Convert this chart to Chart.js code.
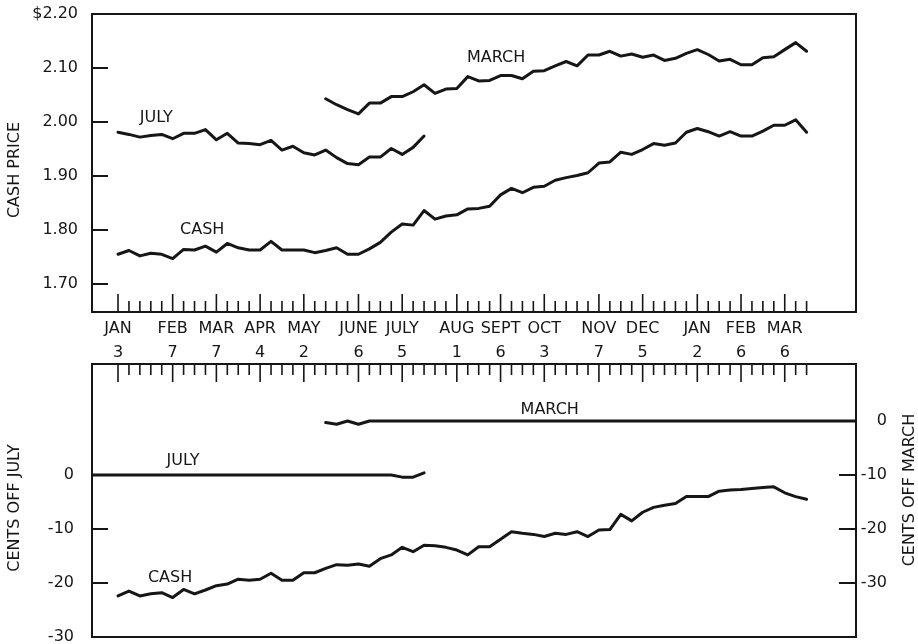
<!DOCTYPE html>
<html>
<head>
<meta charset="utf-8">
<title>Cash price and basis</title>
<script src="https://cdn.jsdelivr.net/npm/chart.js@4.4.1/dist/chart.umd.min.js"></script>
<style>
  html, body { margin: 0; padding: 0; background: #fff; overflow: hidden; }
  #wrap { position: relative; width: 918px; height: 644px; overflow: hidden; }
  #wrap canvas { position: absolute; left: 0; display: block; }
  #priceChart { top: 0; }
  #basisChart { top: 354px; }
</style>
</head>
<body>
<div id="wrap">
  <canvas id="priceChart" width="918" height="364"></canvas>
  <canvas id="basisChart" width="918" height="294"></canvas>
</div>
<script>
// week 0 = Jan 3, one point per week
const monthWeeks = [0, 5, 9, 13, 17, 22, 26, 31, 35, 39, 44, 48, 53, 57, 61];
const monthNames = ['JAN', 'FEB', 'MAR', 'APR', 'MAY', 'JUNE', 'JULY', 'AUG', 'SEPT', 'OCT', 'NOV', 'DEC', 'JAN', 'FEB', 'MAR'];
const monthDays  = ['3', '7', '7', '4', '2', '6', '5', '1', '6', '3', '7', '5', '2', '6', '6'];

const priceTicks = [1.70, 1.80, 1.90, 2.00, 2.10, 2.20];
const julyOffTicks = [-30, -20, -10, 0];
const marchOffTicks = [-30, -20, -10, 0];

// dollars per bushel
const CASH_START = 0;
const cashPrice = [
  1.755, 1.762, 1.752, 1.757, 1.755, 1.747, 1.764, 1.763, 1.770, 1.759,
  1.775, 1.767, 1.763, 1.763, 1.779, 1.763, 1.763, 1.763, 1.758, 1.762,
  1.767, 1.755, 1.755, 1.765, 1.777, 1.796, 1.811, 1.809, 1.836, 1.820,
  1.826, 1.828, 1.839, 1.840, 1.844, 1.865, 1.877, 1.869, 1.879, 1.881,
  1.892, 1.897, 1.901, 1.906, 1.924, 1.926, 1.944, 1.940, 1.949, 1.960,
  1.957, 1.961, 1.981, 1.988, 1.982, 1.974, 1.982, 1.974, 1.974, 1.983,
  1.994, 1.994, 2.004, 1.981
];
const JULY_START = 0;
const julyPrice = [
  1.981, 1.977, 1.972, 1.975, 1.977, 1.969, 1.979, 1.979, 1.986, 1.967,
  1.979, 1.961, 1.960, 1.958, 1.966, 1.948, 1.955, 1.943, 1.939, 1.948,
  1.934, 1.923, 1.921, 1.935, 1.935, 1.951, 1.940, 1.953, 1.974
];
const MARCH_START = 19;
const marchPrice = [
  2.043, 2.032, 2.023, 2.015, 2.035, 2.035, 2.047, 2.047, 2.056, 2.069,
  2.053, 2.061, 2.062, 2.084, 2.076, 2.077, 2.086, 2.086, 2.080, 2.094,
  2.095, 2.104, 2.112, 2.104, 2.124, 2.124, 2.131, 2.122, 2.126, 2.120,
  2.124, 2.114, 2.118, 2.127, 2.134, 2.125, 2.113, 2.116, 2.106, 2.106,
  2.119, 2.121, 2.134, 2.147, 2.131
];

// cents off the futures
const cashOffJuly = [
  -22.4, -21.5, -22.4, -22.0, -21.8, -22.7, -21.2, -22.0, -21.3, -20.5,
  -20.2, -19.3, -19.5, -19.3, -18.2, -19.5, -19.5, -18.1, -18.1, -17.3,
  -16.6, -16.7, -16.5, -16.9, -15.5, -14.8, -13.4, -14.2, -13.0, -13.1,
  -13.4, -13.9, -14.8, -13.3, -13.3, -11.9, -10.5, -10.8, -11.0, -11.4,
  -10.8, -11.0, -10.5, -11.4, -10.2, -10.1, -7.3, -8.5, -6.9, -6.0,
  -5.6, -5.3, -4.0, -4.0, -4.0, -3.0, -2.8, -2.7, -2.5, -2.3,
  -2.2, -3.3, -4.0, -4.5
];
const julyOffJuly = [
  0, 0, 0, 0, 0, 0, 0, 0, 0, 0,
  0, 0, 0, 0, 0, 0, 0, 0, 0, 0,
  0, 0, 0, 0, 0, 0, -0.4, -0.4, 0.4
];
const marchOffMarch = [
  -0.3, -0.6, 0, -0.6, 0, 0, 0, 0, 0, 0,
  0, 0, 0, 0, 0, 0, 0, 0, 0, 0,
  0, 0, 0, 0, 0, 0, 0, 0, 0, 0,
  0, 0, 0, 0, 0, 0, 0, 0, 0, 0,
  0, 0, 0, 0, 0
];

const INK = '#161616';
const FONT = '"DejaVu Sans", sans-serif';
const X_MIN = -2.38, X_MAX = 67.52;
const PRICE_MIN = 1.6481, PRICE_MAX = 2.20;

Chart.defaults.font.family = FONT;
Chart.defaults.font.size = 16;
Chart.defaults.color = INK;

function line(values, start, axis) {
  return {
    data: values.map((v, i) => ({ x: start + i, y: v })),
    yAxisID: axis,
    borderColor: INK,
    borderWidth: 3,
    pointRadius: 0,
    tension: 0,
    fill: false,
    borderJoinStyle: 'round',
    borderCapStyle: 'round'
  };
}

// fixed axis box size, no extra label padding pushed into the layout
function fixSize(prop, size) {
  return s => {
    s[prop] = size;
    s.paddingTop = 0;
    s.paddingBottom = 0;
    s.paddingLeft = 0;
    s.paddingRight = 0;
  };
}

// frame, inner tick marks, curve names and rotated axis titles
function decor(cfg) {
  return {
    id: 'decor',
    afterDatasetsDraw(chart) {
      const { ctx, chartArea: a, scales } = chart;
      ctx.save();
      ctx.strokeStyle = INK;
      ctx.fillStyle = INK;

      ctx.lineWidth = 1.6;
      ctx.beginPath();
      const y0 = cfg.tickEdge === 'bottom' ? a.bottom : a.top;
      const dir = cfg.tickEdge === 'bottom' ? -1 : 1;
      cashPrice.forEach((_, i) => {
        const w = CASH_START + i;
        const px = scales.x.getPixelForValue(w);
        const len = monthWeeks.includes(w) ? 18 : 11;
        ctx.moveTo(px, y0);
        ctx.lineTo(px, y0 + dir * len);
      });
      ctx.stroke();

      ctx.lineWidth = 2;
      ctx.beginPath();
      cfg.valueAxes.forEach(id => {
        const s = scales[id];
        s.ticks.forEach(t => {
          const py = s.getPixelForValue(t.value);
          if (s.position === 'left') { ctx.moveTo(a.left, py); ctx.lineTo(a.left + 16, py); }
          else { ctx.moveTo(a.right, py); ctx.lineTo(a.right - 17, py); }
        });
      });
      ctx.stroke();

      ctx.strokeRect(a.left, a.top, a.right - a.left, a.bottom - a.top);

      ctx.font = '16px ' + FONT;
      ctx.textAlign = 'center';
      ctx.textBaseline = 'middle';
      cfg.notes.forEach(n => {
        ctx.fillText(n.text, scales.x.getPixelForValue(n.x), scales[n.axis].getPixelForValue(n.y));
      });
      cfg.titles.forEach(t => {
        ctx.save();
        ctx.translate(t.x, t.y);
        ctx.rotate(-Math.PI / 2);
        ctx.fillText(t.text, 0, 0);
        ctx.restore();
      });
      ctx.restore();
    }
  };
}

const hiddenGrid = { display: false, drawTicks: false };

new Chart(document.getElementById('priceChart'), {
  type: 'line',
  data: {
    datasets: [
      line(cashPrice, CASH_START, 'y'),
      line(julyPrice, JULY_START, 'y'),
      line(marchPrice, MARCH_START, 'y')
    ]
  },
  options: {
    responsive: false,
    animation: false,
    devicePixelRatio: 1,
    layout: { padding: { left: 0, right: 62, top: 14, bottom: 0 } },
    plugins: { legend: { display: false }, tooltip: { enabled: false } },
    scales: {
      x: {
        type: 'linear', min: X_MIN, max: X_MAX,
        grid: hiddenGrid, border: { display: false },
        afterBuildTicks: s => { s.ticks = monthWeeks.map(w => ({ value: w })); },
        afterFit: fixSize('height', 52),
        ticks: {
          autoSkip: false, maxRotation: 0, minRotation: 0, padding: 5,
          font: { size: 16, lineHeight: 1.5 },
          callback: v => {
            const i = monthWeeks.indexOf(v);
            return [monthNames[i], monthDays[i]];
          }
        }
      },
      y: {
        type: 'linear', position: 'left', min: PRICE_MIN, max: PRICE_MAX,
        grid: hiddenGrid, border: { display: false },
        afterBuildTicks: s => { s.ticks = priceTicks.map(v => ({ value: v })); },
        afterFit: fixSize('width', 92),
        ticks: {
          padding: 14,
          callback: v => (v === 2.2 ? '$' : '') + v.toFixed(2)
        }
      }
    }
  },
  plugins: [decor({
    tickEdge: 'bottom',
    valueAxes: ['y'],
    notes: [
      { text: 'JULY', x: 3.5, y: 2.007, axis: 'y' },
      { text: 'CASH', x: 7.7, y: 1.800, axis: 'y' },
      { text: 'MARCH', x: 34.6, y: 2.118, axis: 'y' }
    ],
    titles: [{ text: 'CASH PRICE', x: 15, y: 170 }]
  })]
});

const julyLine = line(julyOffJuly, JULY_START, 'y');
julyLine.data.unshift({ x: X_MIN, y: julyOffJuly[0] });
const marchLine = line(marchOffMarch, MARCH_START, 'y2');
marchLine.data.push({ x: X_MAX, y: marchOffMarch[marchOffMarch.length - 1] });

new Chart(document.getElementById('basisChart'), {
  type: 'line',
  data: {
    datasets: [
      line(cashOffJuly, CASH_START, 'y'),
      julyLine,
      marchLine
    ]
  },
  options: {
    responsive: false,
    animation: false,
    devicePixelRatio: 1,
    layout: { padding: { left: 0, right: 31, top: 10, bottom: 11 } },
    plugins: { legend: { display: false }, tooltip: { enabled: false } },
    scales: {
      x: { type: 'linear', min: X_MIN, max: X_MAX, display: false },
      y: {
        type: 'linear', position: 'left', min: -30, max: 20.55,
        grid: hiddenGrid, border: { display: false },
        afterBuildTicks: s => { s.ticks = julyOffTicks.map(v => ({ value: v })); },
        afterFit: fixSize('width', 92),
        ticks: { padding: 18, callback: v => String(v) }
      },
      y2: {
        type: 'linear', position: 'right', min: -40, max: 10.55,
        grid: hiddenGrid, border: { display: false },
        afterBuildTicks: s => { s.ticks = marchOffTicks.map(v => ({ value: v })); },
        afterFit: fixSize('width', 31),
        ticks: { padding: 0, crossAlign: 'far', callback: v => String(v) }
      }
    }
  },
  plugins: [decor({
    tickEdge: 'top',
    valueAxes: ['y', 'y2'],
    notes: [
      { text: 'JULY', x: 5.95, y: 2.6, axis: 'y' },
      { text: 'CASH', x: 4.76, y: -19.1, axis: 'y' },
      { text: 'MARCH', x: 39.5, y: 2.04, axis: 'y2' }
    ],
    titles: [
      { text: 'CENTS OFF JULY', x: 15, y: 154 },
      { text: 'CENTS OFF MARCH', x: 910, y: 136 }
    ]
  })]
});
</script>
</body>
</html>
